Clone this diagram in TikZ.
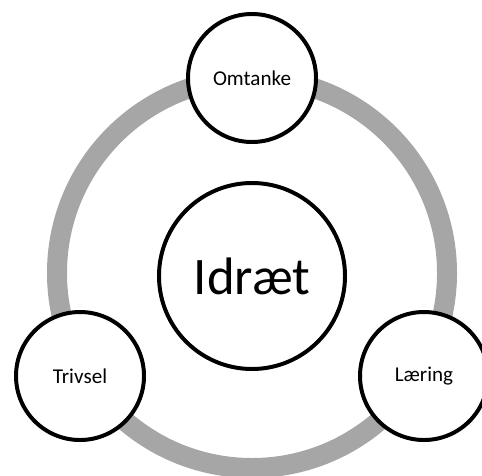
\documentclass[tikz,border=0pt]{standalone}
\usepackage{fontspec}
\setmainfont{Carlito}
\usepackage{tikz}
\usetikzlibrary{shapes, positioning}
\definecolor{ringgray}{RGB}{166,166,166}
\tikzstyle{ring}=[draw=ringgray, line width=0.6cm]
\tikzstyle{core}=[draw, circle, line width=3.4pt, fill=white, minimum size=5.58cm, inner sep=0pt, font=\fontsize{45}{50}\selectfont]
\tikzstyle{value}=[draw, circle, line width=3.4pt, fill=white, minimum size=3.84cm, inner sep=0pt, font=\fontsize{18}{21}\selectfont]

\begin{document}
\begin{tikzpicture}[x=0.03cm, y=-0.03cm]
		\useasboundingbox (0,0) rectangle (482,475);
		\clip (0,0) rectangle (482,475);
		\coordinate (C) at (252,273);
		\draw[ring] (C) circle (5.85cm);
		\node[core] (I) at (252,276) {Idræt};
		\node[value] (O) at (252,78) {Omtanke};
		\node[value] (T) at (80,376) {Trivsel};
		\node[value] (L) at (424,376) {Læring};
	\end{tikzpicture}
\end{document}
